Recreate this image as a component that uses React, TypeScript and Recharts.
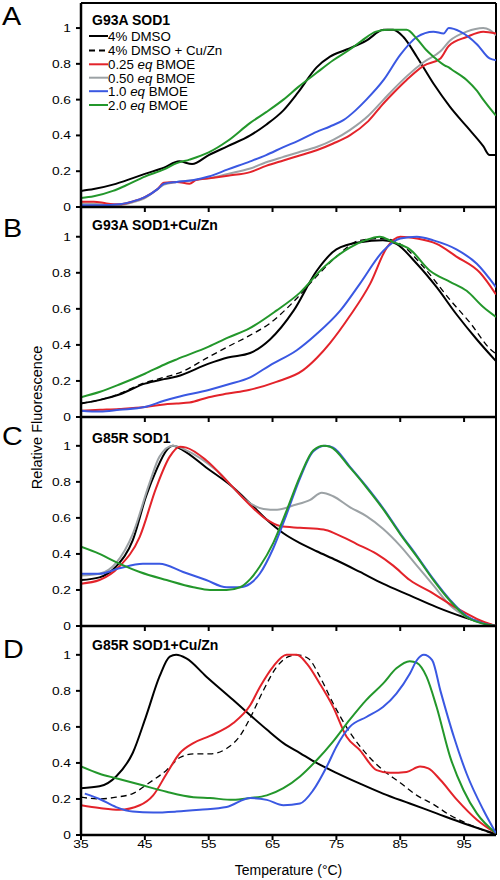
import React from 'react';
import { LineChart, Line, XAxis, YAxis, ReferenceLine } from 'recharts';

type P = [number, number];

// ---------- Panel A: G93A SOD1 ----------
const A_black: P[] = [[35,0.09],[37,0.10],[40,0.125],[43,0.16],[45,0.185],[48,0.22],[50.4,0.255],[52.4,0.24],[55,0.29],[58,0.34],[61.5,0.40],[64,0.46],[66.7,0.54],[69,0.64],[71.9,0.78],[74,0.84],[76.6,0.88],[79.7,0.93],[82.4,0.99],[83.9,0.99],[85.5,0.95],[87.6,0.84],[90.2,0.69],[92.8,0.56],[95.4,0.45],[98,0.34],[99,0.29],[100,0.29]];
const A_red: P[] = [[35,0.03],[37,0.03],[39,0.02],[41,0.015],[43,0.03],[45,0.055],[47,0.1],[48,0.135],[50,0.14],[52,0.13],[53,0.15],[55,0.16],[58,0.175],[61.5,0.195],[64,0.23],[66.7,0.26],[69,0.285],[71.9,0.317],[74.5,0.355],[77.1,0.40],[80,0.48],[82.4,0.58],[84,0.64],[86,0.71],[88.7,0.79],[91.3,0.83],[92.6,0.90],[95.4,0.95],[98,0.98],[100,0.97]];
const A_gray: P[] = [[35,0.02],[38,0.015],[41,0.01],[43,0.025],[45,0.05],[47,0.1],[48,0.125],[50,0.14],[52.5,0.15],[55,0.16],[58,0.185],[61.5,0.215],[64,0.25],[66.7,0.28],[69,0.305],[71.9,0.335],[74.5,0.375],[77.1,0.43],[80,0.51],[82.4,0.60],[84,0.66],[86,0.73],[88.7,0.81],[91.3,0.87],[92.8,0.93],[95.4,0.98],[98,1.0],[99,0.99],[100,0.96]];
const A_blue: P[] = [[35,0.01],[38,0.01],[41,0.015],[43,0.03],[45,0.055],[47,0.1],[48,0.13],[50,0.14],[52.5,0.15],[55,0.17],[58,0.21],[61.5,0.255],[64,0.29],[66.7,0.335],[69,0.37],[71.9,0.42],[74,0.45],[76.1,0.485],[78,0.54],[79.7,0.60],[82.4,0.71],[85,0.85],[87.6,0.95],[90.2,0.98],[91.8,0.97],[92.6,1.0],[94.4,0.98],[97,0.91],[99,0.83],[100,0.82]];
const A_green: P[] = [[35,0.05],[37,0.06],[40,0.09],[42,0.12],[45,0.17],[48,0.21],[50,0.245],[52,0.265],[55,0.305],[58,0.37],[61.5,0.47],[64,0.53],[66.7,0.60],[69,0.67],[71.9,0.75],[74.5,0.82],[77.1,0.88],[79,0.93],[81.2,0.98],[83,0.99],[86,0.99],[87.6,0.94],[89,0.88],[90.2,0.84],[92,0.79],[92.6,0.78],[93,0.77],[95.4,0.71],[97,0.65],[98,0.60],[100,0.51]];

// ---------- Panel B: G93A SOD1+Cu/Zn ----------
const B_black: P[] = [[35,0.075],[38,0.095],[41,0.125],[45,0.185],[48,0.21],[50,0.225],[55,0.296],[58,0.33],[61.5,0.355],[64.6,0.43],[68.3,0.59],[71.9,0.81],[75,0.93],[78.7,0.97],[82.3,0.98],[84.4,0.96],[87.6,0.85],[90.7,0.72],[93.8,0.57],[97,0.43],[100,0.31]];
const B_dash: P[] = [[35,0.075],[40,0.115],[45,0.19],[48,0.22],[50.4,0.245],[55,0.333],[58,0.39],[61.3,0.45],[64.6,0.52],[68.3,0.64],[71.9,0.78],[75,0.89],[78.7,0.98],[82.3,0.99],[85,0.96],[88.7,0.83],[92.8,0.65],[96,0.52],[99,0.38],[100,0.35]];
const B_red: P[] = [[35,0.035],[38,0.04],[41,0.045],[45,0.055],[48,0.07],[50,0.075],[52,0.08],[55,0.11],[58,0.13],[61.3,0.15],[65.6,0.195],[69.8,0.26],[72,0.33],[74,0.41],[77.1,0.56],[80.3,0.74],[82.9,0.94],[85,1.0],[87.6,0.99],[90.7,0.96],[93.8,0.89],[97.5,0.80],[100,0.68]];
const B_blue: P[] = [[35,0.035],[38,0.03],[41,0.04],[45,0.055],[48,0.09],[50,0.11],[55,0.15],[58,0.18],[61.5,0.22],[64.6,0.287],[68.8,0.37],[71.9,0.46],[75.6,0.59],[78.7,0.74],[82.3,0.92],[85,0.99],[87.6,1.0],[90.2,0.98],[93.8,0.93],[97,0.85],[100,0.72]];
const B_green: P[] = [[35,0.11],[38,0.14],[41,0.18],[45,0.24],[48,0.29],[50,0.32],[55,0.39],[58,0.44],[61.3,0.49],[65.6,0.59],[69.3,0.69],[73,0.83],[77.1,0.94],[79.5,0.98],[81.8,1.0],[83.9,0.97],[86.5,0.93],[89.7,0.81],[92.8,0.75],[95.4,0.70],[98,0.61],[100,0.555]];

// ---------- Panel C: G85R SOD1 ----------
const C_black: P[] = [[35,0.255],[37.9,0.27],[40.5,0.33],[43.1,0.475],[45.2,0.72],[46.8,0.865],[48.4,0.975],[49.4,1.0],[51,0.975],[54.6,0.88],[58.8,0.77],[61.5,0.68],[64.1,0.59],[66.7,0.515],[69.3,0.46],[71.9,0.415],[75,0.365],[78.7,0.30],[82.3,0.235],[86.5,0.17],[90.7,0.105],[94.9,0.05],[100,0]];
const C_gray: P[] = [[35,0.28],[37.9,0.29],[40.5,0.35],[43.1,0.51],[45.7,0.79],[47.3,0.94],[49.4,1.0],[51.5,0.975],[56.2,0.865],[61.5,0.68],[63.6,0.65],[65.7,0.645],[68.3,0.67],[70.9,0.70],[72.7,0.74],[74.5,0.72],[77.1,0.66],[79.7,0.61],[82.3,0.54],[85,0.445],[87.6,0.335],[90.2,0.225],[92.8,0.115],[95.4,0.05],[100,0]];
const C_red: P[] = [[35,0.235],[37.9,0.255],[41,0.33],[44.2,0.495],[46.8,0.77],[48.9,0.94],[50.5,0.995],[51.5,0.99],[54.6,0.92],[58,0.80],[61.5,0.67],[64.1,0.59],[66.2,0.555],[69.3,0.545],[73,0.535],[75,0.51],[78.2,0.455],[81.3,0.40],[83.9,0.335],[86.5,0.255],[90.2,0.18],[93.8,0.10],[97,0.04],[100,0]];
const C_blue: P[] = [[35,0.29],[37.9,0.29],[41,0.32],[44.7,0.345],[47.3,0.345],[51,0.30],[54.6,0.255],[57.8,0.215],[59.9,0.215],[61.5,0.235],[63,0.29],[65.1,0.43],[67.2,0.62],[69.3,0.82],[71.4,0.97],[73.3,1.0],[74.5,0.99],[77.1,0.885],[79.7,0.775],[82.3,0.655],[85,0.515],[87.6,0.39],[90.2,0.26],[92.8,0.145],[95.4,0.055],[100,0]];
const C_green: P[] = [[35,0.44],[37.9,0.40],[40.5,0.355],[44.2,0.30],[48.4,0.255],[52.6,0.215],[55.2,0.2],[57.8,0.2],[59.9,0.215],[61.5,0.26],[63,0.33],[65.1,0.46],[67.2,0.64],[69.3,0.83],[71.4,0.975],[73,1.0],[74,0.995],[77.1,0.88],[79.7,0.77],[82.3,0.65],[85,0.51],[87.6,0.385],[90.2,0.255],[92.8,0.14],[95.4,0.05],[99,0.005],[100,0]];

// ---------- Panel D: G85R SOD1+Cu/Zn ----------
const D_black: P[] = [[35,0.26],[37.9,0.27],[40.5,0.325],[43.1,0.455],[45.2,0.66],[47.3,0.88],[48.9,0.99],[49.9,1.0],[51.5,0.98],[54.6,0.88],[58.8,0.75],[61.5,0.665],[64.1,0.585],[66.7,0.51],[69.3,0.455],[71.9,0.40],[75,0.345],[78.7,0.285],[82.3,0.23],[86.5,0.175],[90.7,0.12],[94.9,0.065],[100,0.005]];
const D_dash: P[] = [[35,0.21],[37.9,0.20],[40.5,0.21],[43.1,0.23],[45.7,0.29],[48.4,0.36],[50.5,0.43],[52.6,0.45],[55.2,0.45],[57.8,0.48],[59.9,0.55],[61.5,0.65],[63.6,0.805],[65.7,0.935],[67.5,0.99],[68.8,1.0],[70.6,0.98],[72.4,0.88],[74.5,0.73],[77.1,0.57],[79.7,0.45],[82.3,0.36],[85,0.29],[87.6,0.22],[90.2,0.17],[92.8,0.11],[95.4,0.065],[100,0]];
const D_red: P[] = [[35,0.165],[37.9,0.15],[41,0.14],[44.2,0.165],[46.3,0.22],[48.4,0.34],[50.5,0.455],[52.6,0.51],[55.2,0.55],[58.8,0.62],[61.5,0.72],[63,0.82],[65.1,0.935],[67.2,1.0],[68.8,1.0],[70.4,0.95],[72.4,0.84],[74.5,0.71],[76.6,0.545],[78.7,0.47],[81.3,0.36],[83.4,0.345],[86,0.35],[88.1,0.38],[89.4,0.37],[91.3,0.305],[93.9,0.195],[97,0.085],[100,0.01]];
const D_blue: P[] = [[35.6,0.23],[37.9,0.20],[40.5,0.155],[43.1,0.13],[46.3,0.125],[49.9,0.13],[53.6,0.14],[57.8,0.155],[61.5,0.205],[64.1,0.195],[66.7,0.165],[69.3,0.175],[71.4,0.25],[73.5,0.38],[75,0.49],[77.1,0.60],[79.7,0.655],[82.3,0.71],[84.4,0.785],[86.5,0.895],[87.6,0.97],[88.7,1.0],[90,0.97],[91.3,0.80],[93.4,0.545],[95.4,0.34],[98,0.14],[100,0.01]];
const D_green: P[] = [[35,0.38],[37.9,0.34],[40.5,0.315],[44.2,0.28],[48.4,0.24],[52.6,0.21],[55.2,0.205],[58.8,0.195],[61.5,0.205],[64.1,0.22],[66.7,0.26],[69.3,0.325],[71.9,0.415],[74.5,0.52],[77.1,0.64],[79.7,0.75],[82.3,0.84],[84.4,0.925],[86.5,0.965],[87.6,0.955],[89.1,0.88],[90.7,0.71],[92.8,0.435],[94.9,0.25],[97,0.12],[100,0.01]];

const X_TICKS = [35, 45, 55, 65, 75, 85, 95];
const Y_TICKS = [0, 0.2, 0.4, 0.6, 0.8, 1];
const Y_TICK_LABELS = ['0', '0.2', '0.4', '0.6', '0.8', '1'];

const LEGEND_LABELS = ['4% DMSO', '4% DMSO + Cu/Zn', '0.25 eq BMOE', '0.50 eq BMOE', '1.0 eq BMOE', '2.0 eq BMOE'];
const PANEL_LETTERS = ['A', 'B', 'C', 'D'];
const PANEL_TITLES = ['G93A SOD1', 'G93A SOD1+Cu/Zn', 'G85R SOD1', 'G85R SOD1+Cu/Zn'];

const C = {
  black: '#000000',
  red: '#e3232a',
  gray: '#9ca2a5',
  blue: '#3a58e2',
  green: '#23972b',
};

const FONT = '"Liberation Sans", Arial, Helvetica, sans-serif';

type Series = { name: string; pts: P[]; color: string; dashed?: boolean };
type PanelCfg = { top: number; bottom: number; yMax: number; showX: boolean; series: Series[] };

const PANELS: PanelCfg[] = [
  { top: 3, bottom: 207, yMax: 1.14, showX: false, series: [
    { name: 'black', pts: A_black, color: C.black },
    { name: 'gray', pts: A_gray, color: C.gray },
    { name: 'red', pts: A_red, color: C.red },
    { name: 'blue', pts: A_blue, color: C.blue },
    { name: 'green', pts: A_green, color: C.green },
  ] },
  { top: 207, bottom: 417, yMax: 1.165, showX: false, series: [
    { name: 'black', pts: B_black, color: C.black },
    { name: 'dash', pts: B_dash, color: C.black, dashed: true },
    { name: 'red', pts: B_red, color: C.red },
    { name: 'blue', pts: B_blue, color: C.blue },
    { name: 'green', pts: B_green, color: C.green },
  ] },
  { top: 417, bottom: 626, yMax: 1.16, showX: false, series: [
    { name: 'black', pts: C_black, color: C.black },
    { name: 'gray', pts: C_gray, color: C.gray },
    { name: 'red', pts: C_red, color: C.red },
    { name: 'blue', pts: C_blue, color: C.blue },
    { name: 'green', pts: C_green, color: C.green },
  ] },
  { top: 626, bottom: 835, yMax: 1.16, showX: true, series: [
    { name: 'black', pts: D_black, color: C.black },
    { name: 'dash', pts: D_dash, color: C.black, dashed: true },
    { name: 'red', pts: D_red, color: C.red },
    { name: 'green', pts: D_green, color: C.green },
    { name: 'blue', pts: D_blue, color: C.blue },
  ] },
];

const toObj = (pts: P[]) => pts.map(([x, y]) => ({ x, y }));

const NoTick = () => <g />;

const XTick = (props: any) => {
  const { x, y, payload } = props;
  return (
    <text transform={`translate(${x},${y + 6.5}) scale(1.25,1)`} textAnchor="middle" fontSize={11} fill="#000" fontFamily={FONT}>
      {payload.value}
    </text>
  );
};

const YTick = (props: any) => {
  const { x, y, payload } = props;
  const idx = Y_TICKS.indexOf(payload.value);
  const label = idx >= 0 ? Y_TICK_LABELS[idx] : String(payload.value);
  return (
    <text transform={`translate(${x},${y + 4}) scale(1.25,1)`} textAnchor="end" fontSize={11} fill="#000" fontFamily={FONT}>
      {label}
    </text>
  );
};

function Panel({ cfg }: { cfg: PanelCfg }) {
  const mt = 5;
  const plotH = cfg.bottom - cfg.top;
  const xH = cfg.showX ? 20 : 7;
  const height = mt + plotH + xH;
  return (
    <div style={{ position: 'absolute', left: 0, top: cfg.top - mt }}>
      <LineChart width={500} height={height} margin={{ top: mt, right: 4, bottom: 0, left: 0 }}>
        <XAxis
          type="number"
          dataKey="x"
          domain={[35, 100]}
          ticks={X_TICKS}
          interval={0}
          allowDataOverflow
          height={xH}
          axisLine={{ stroke: '#000', strokeWidth: 2.5 }}
          tickLine={{ stroke: '#000', strokeWidth: 2 }}
          tickSize={5}
          tickMargin={1}
          tick={cfg.showX ? XTick : NoTick}
        />
        <YAxis
          type="number"
          domain={[0, cfg.yMax]}
          ticks={Y_TICKS}
          interval={0}
          allowDataOverflow
          width={81}
          axisLine={{ stroke: '#000', strokeWidth: 2.5 }}
          tickLine={{ stroke: '#000', strokeWidth: 2 }}
          tickSize={5}
          tickMargin={5}
          tick={YTick}
        />
        <ReferenceLine y={cfg.yMax} stroke="#000" strokeWidth={2} ifOverflow="visible" />
        <ReferenceLine x={100} stroke="#000" strokeWidth={2} ifOverflow="visible" />
        {cfg.series.map((s) => (
          <Line
            key={s.name}
            data={toObj(s.pts)}
            dataKey="y"
            type="monotone"
            stroke={s.color}
            strokeWidth={s.dashed ? 1.3 : 2}
            strokeDasharray={s.dashed ? '6 4' : undefined}
            dot={false}
            activeDot={false}
            isAnimationActive={false}
          />
        ))}
      </LineChart>
    </div>
  );
}

const LEGEND_COLORS = [C.black, C.black, C.red, C.gray, C.blue, C.green];
const LEGEND_Y = [36, 50.5, 64.3, 77.7, 91.2, 105];
const LETTER_POS: [number, number][] = [[2, 25], [3, 237], [2, 445], [3, 658]];
const TITLE_Y = [25, 230, 443, 650];

function renderLegendLabel(label: string) {
  const i = label.indexOf(' eq ');
  if (i < 0) return label;
  return (
    <>
      {label.slice(0, i + 1)}
      <tspan fontStyle="italic">eq</tspan>
      {label.slice(i + 3)}
    </>
  );
}

export default function App() {
  return (
    <div style={{ position: 'absolute', left: 0, top: 0, width: 500, height: 880, background: '#fff', fontFamily: FONT, overflow: 'hidden' }}>
      {PANELS.map((p, i) => (
        <Panel key={i} cfg={p} />
      ))}
      <svg width={500} height={880} style={{ position: 'absolute', left: 0, top: 0, pointerEvents: 'none' }} fontFamily={FONT}>
        {PANEL_LETTERS.map((l, i) => (
          <text key={l} transform={`translate(${LETTER_POS[i][0]},${LETTER_POS[i][1]}) scale(1.15,1)`} fontSize={25} fill="#000">
            {l}
          </text>
        ))}
        {PANEL_TITLES.map((t, i) => (
          <text key={t} x={92} y={TITLE_Y[i]} fontSize={14} fontWeight="bold" fill="#000">
            {t}
          </text>
        ))}
        {LEGEND_LABELS.map((l, i) => (
          <g key={l}>
            <line
              x1={89}
              x2={108}
              y1={LEGEND_Y[i]}
              y2={LEGEND_Y[i]}
              stroke={LEGEND_COLORS[i]}
              strokeWidth={2}
              strokeDasharray={i === 1 ? '6 4' : undefined}
            />
            <text x={108} y={LEGEND_Y[i] + 4.8} fontSize={13.3} fill="#000">
              {renderLegendLabel(l)}
            </text>
          </g>
        ))}
        <text transform="translate(42,417.5) rotate(-90)" textAnchor="middle" fontSize={14.5} fill="#000">
          Relative Fluorescence
        </text>
        <text x={288.5} y={875} textAnchor="middle" fontSize={14} fill="#000">
          Temperature (°C)
        </text>
      </svg>
    </div>
  );
}
